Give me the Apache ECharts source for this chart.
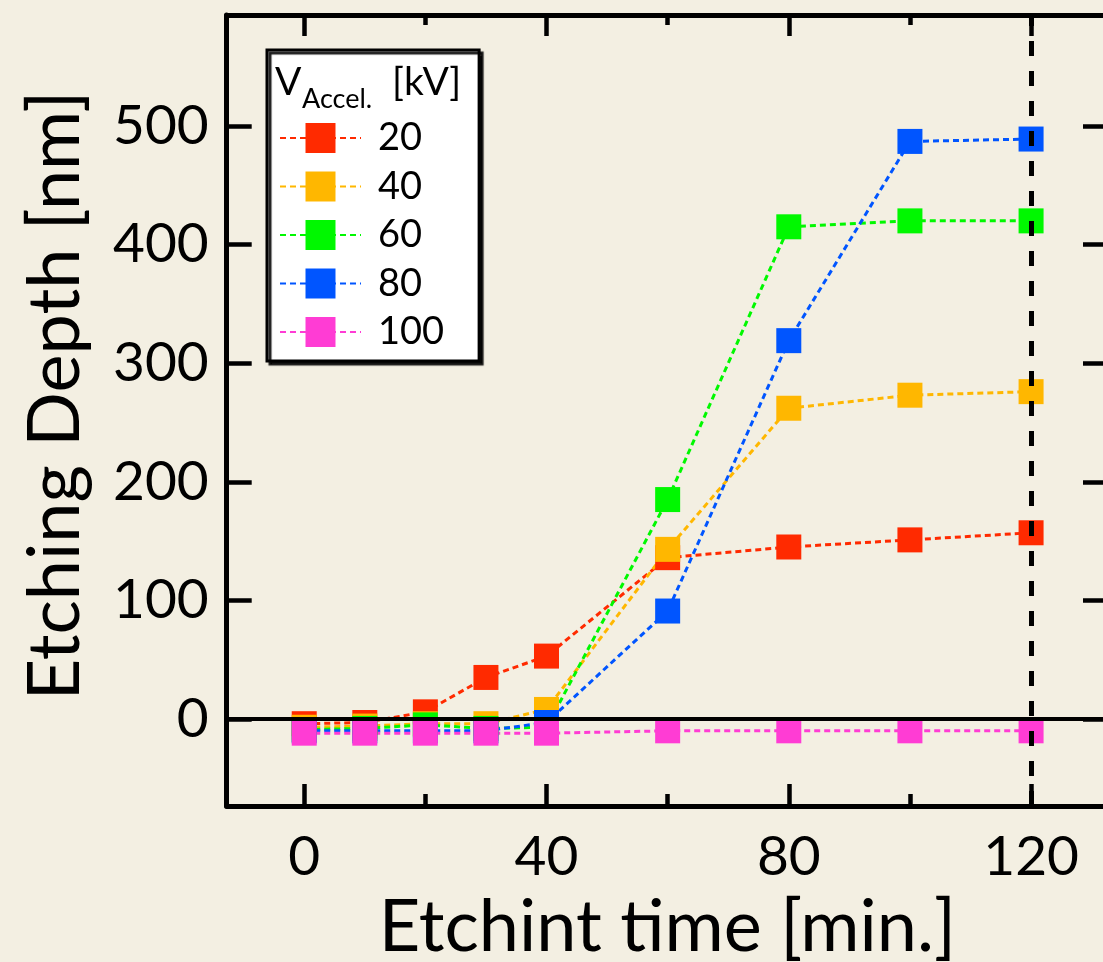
<!DOCTYPE html>
<html><head><meta charset="utf-8">
<script src="https://cdn.jsdelivr.net/npm/echarts@6/dist/echarts.min.js"></script>
<style>html,body{margin:0;padding:0;background:#F3EFE2;} #c{width:1103px;height:962px;}</style>
</head><body><div id="c"></div>
<script>
// ---- data ----
const times = [0, 10, 20, 30, 40, 60, 80, 100, 120];
const voltages = ['20', '40', '60', '80', '100'];
const depth20  = [-4, -3, 6, 35, 53, 136, 145, 151, 157];
const depth40  = [-7, -6, -4, -4, 8, 143, 262, 273, 276];
const depth60  = [-9, -8, -5, -8, -7, 185, 415, 420, 420];
const depth80  = [-10, -10, -10, -10, -3, 91, 319, 487, 489];
const depth100 = [-12, -12, -12, -12, -12, -10, -10, -10, -10];
const xTicksMajor = [0, 40, 80, 120];
const xTicksMinor = [20, 60, 100];
const yTicks = [0, 100, 200, 300, 400, 500];
const refTime = 120;
const zeroDepth = 0;
const colors = ['#FF2A00', '#FFB700', '#00F800', '#0055FF', '#FF3CD4'];

// ---- chart ----
const allDepths = [depth20, depth40, depth60, depth80, depth100];
const X_MIN = -12.8, X_MAX = 132.7, Y_MIN = -73.4, Y_MAX = 593.6;
const FONT = 'Lato';
const chart = echarts.init(document.getElementById('c'));

function xAx(pos, ticks, len, showLine, showLabel) {
  return {
    type: 'value', position: pos, min: X_MIN, max: X_MAX,
    axisLine: { show: showLine, onZero: false, lineStyle: { color: '#000', width: 5 } },
    axisTick: { show: true, inside: true, length: len, customValues: ticks, lineStyle: { color: '#000', width: 4.5 } },
    axisLabel: showLabel ? { show: true, customValues: ticks, fontFamily: FONT, fontSize: 55, color: '#000', margin: 24 } : { show: false },
    splitLine: { show: false }
  };
}
function yAx(pos, showLabel) {
  return {
    type: 'value', position: pos, min: Y_MIN, max: Y_MAX,
    axisLine: { show: true, onZero: false, lineStyle: { color: '#000', width: 5 } },
    axisTick: { show: true, inside: true, length: 25, customValues: yTicks, lineStyle: { color: '#000', width: 4.5 } },
    axisLabel: showLabel ? { show: true, customValues: yTicks, fontFamily: FONT, fontSize: 55, color: '#000', margin: 18 } : { show: false },
    splitLine: { show: false }
  };
}

const xMain = xAx('bottom', xTicksMajor, 22, true, true);
xMain.name = 'Etchint time [min.]';
xMain.nameLocation = 'middle';
xMain.nameGap = 86;
xMain.nameMoveOverlap = false;
xMain.nameTextStyle = { fontFamily: FONT, fontSize: 72, color: '#000' };

const yMain = yAx('left', true);
yMain.name = 'Etching Depth [nm]';
yMain.nameLocation = 'middle';
yMain.nameGap = 135;
yMain.nameMoveOverlap = false;
yMain.nameTextStyle = { fontFamily: FONT, fontSize: 72, color: '#000', padding: [0, 0, 0, 30] };

const series = voltages.map((v, k) => ({
  name: v, type: 'line', xAxisIndex: 0, yAxisIndex: 0, z: 2,
  data: times.map((t, i) => [t, allDepths[k][i]]),
  symbol: 'rect', symbolSize: 25, showSymbol: true,
  lineStyle: { color: colors[k], width: 3, type: [6, 4] },
  itemStyle: { color: colors[k] },
  emphasis: { disabled: true }, animation: false
}));
series.unshift({
  name: 'zero', type: 'line', data: [], z: 1, xAxisIndex: 0, yAxisIndex: 0,
  markLine: { silent: true, symbol: ['none', 'none'], label: { show: false }, animation: false,
    lineStyle: { color: '#000', width: 4, type: 'solid' }, data: [{ yAxis: zeroDepth }] }
});
series.push({
  name: 'ref', type: 'line', data: [], z: 10, xAxisIndex: 0, yAxisIndex: 0,
  markLine: { silent: true, symbol: ['none', 'none'], label: { show: false }, animation: false,
    lineStyle: { color: '#000', width: 5, type: [15, 15] }, data: [{ xAxis: refTime }] }
});

chart.setOption({
  backgroundColor: '#F3EFE2',
  animation: false,
  grid: { left: 226.7, top: 15, width: 881.3, height: 791, outerBoundsMode: 'none', containLabel: false },
  xAxis: [xMain, xAx('bottom', xTicksMinor, 12, false, false), xAx('top', xTicksMajor, 21, true, false), xAx('top', xTicksMinor, 10, false, false)],
  yAxis: [yMain, yAx('right', false)],
  legend: {
    data: voltages, orient: 'vertical', left: 267, top: 50,
    itemWidth: 81, itemHeight: 37.5, itemGap: 10.5,
    padding: [69, 35, 10, 12],
    backgroundColor: '#FFFFFF', borderColor: '#000', borderWidth: 3, borderRadius: 0,
    shadowColor: 'rgba(0,0,0,0.9)', shadowBlur: 1, shadowOffsetX: 3, shadowOffsetY: 3,
    textStyle: { fontFamily: FONT, fontSize: 38, color: '#000', padding: [0, 0, 0, 12] },
    selectedMode: false
  },
  graphic: [
    { type: 'text', x: 275, y: 82, z: 100, style: { text: 'V', fontFamily: FONT, fontSize: 39, fill: '#000', align: 'left', verticalAlign: 'middle' } },
    { type: 'text', x: 302, y: 99, z: 100, style: { text: 'Accel.', fontFamily: FONT, fontSize: 27, fill: '#000', align: 'left', verticalAlign: 'middle' } },
    { type: 'text', x: 392, y: 82, z: 100, style: { text: '[kV]', fontFamily: FONT, fontSize: 39, fill: '#000', align: 'left', verticalAlign: 'middle' } }
  ],
  series: series
});
</script></body></html>
